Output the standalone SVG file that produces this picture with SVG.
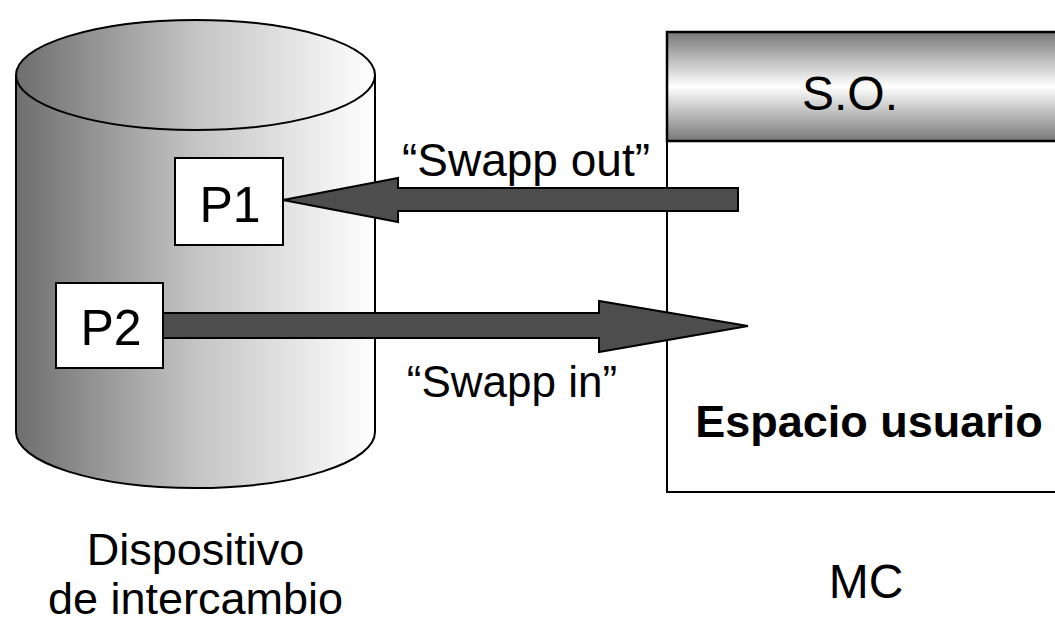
<svg xmlns="http://www.w3.org/2000/svg" width="1055" height="627" viewBox="0 0 1055 627">
<defs>
<linearGradient id="cylGrad" x1="0" y1="0" x2="1" y2="0">
<stop offset="0" stop-color="#6e6e6e"/>
<stop offset="0.5" stop-color="#c4c4c4"/>
<stop offset="1" stop-color="#ffffff"/>
</linearGradient>
<linearGradient id="soGrad" x1="0" y1="0" x2="0" y2="1">
<stop offset="0" stop-color="#777777"/>
<stop offset="0.5" stop-color="#ffffff"/>
<stop offset="1" stop-color="#777777"/>
</linearGradient>
<style>
.t{font-family:"Liberation Sans",Arial,sans-serif;fill:#000;}
.ln{stroke:#000;stroke-width:2;}
.arr{fill:#4d4d4d;stroke:#000;stroke-width:2;stroke-linejoin:miter;}
.box{fill:#fff;stroke:#000;stroke-width:2;}
</style>
</defs>
<rect width="1055" height="627" fill="#fff"/>
<g id="cylinder">
<path d="M16,75 L16,432 A179.5,56 0 0 0 375,432 L375,75 Z" fill="url(#cylGrad)" class="ln"/>
<ellipse cx="195.5" cy="75" rx="179.5" ry="55" fill="url(#cylGrad)" class="ln"/>
<text class="t" x="195.5" y="565" font-size="45" text-anchor="middle">Dispositivo</text>
<text class="t" x="195.5" y="614" font-size="45" text-anchor="middle">de intercambio</text>
</g>
<g id="memory">
<rect x="667" y="141" width="400" height="351" fill="#fff" class="ln"/>
<text class="t" x="866" y="598" font-size="48" text-anchor="middle">MC</text>
</g>
<g id="so">
<rect x="667" y="32" width="400" height="109" fill="url(#soGrad)" stroke="#000" stroke-width="2.5"/>
<text class="t" x="850" y="110" font-size="48" text-anchor="middle">S.O.</text>
</g>
<g id="user-space">
<text class="t" x="869" y="437" font-size="45" font-weight="bold" text-anchor="middle">Espacio usuario</text>
</g>
<g id="connectors">
<polygon class="arr" points="738,188 398,188 398,178 283,200 398,222 398,211 738,211"/>
<polygon class="arr" points="163,313 599,313 599,301 748,326 599,352 599,338 163,338"/>
<text class="t" x="526" y="176" font-size="46" text-anchor="middle">“Swapp out”</text>
<text class="t" x="512" y="397" font-size="44" text-anchor="middle">“Swapp in”</text>
</g>
<g id="p1">
<rect class="box" x="175" y="158" width="108" height="87"/>
<text class="t" x="230" y="222" font-size="50" text-anchor="middle">P1</text>
</g>
<g id="p2">
<rect class="box" x="56" y="283" width="107" height="85"/>
<text class="t" x="111" y="345" font-size="50" text-anchor="middle">P2</text>
</g>
</svg>
